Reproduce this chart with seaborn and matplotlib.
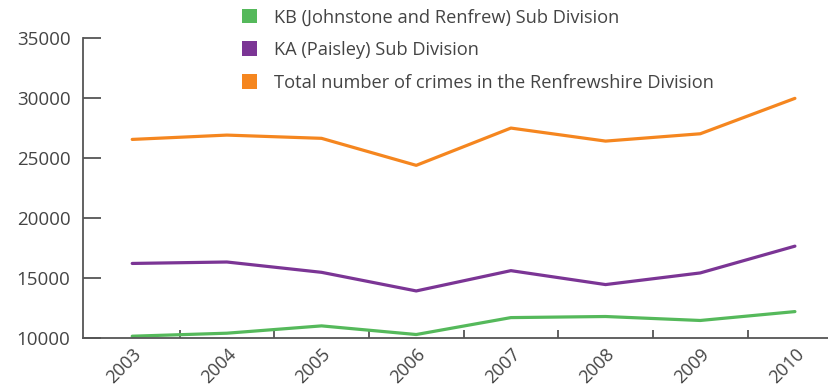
import matplotlib
matplotlib.use("Agg")
import matplotlib.pyplot as plt
import matplotlib.transforms as mtransforms
import seaborn as sns
import pandas as pd
from matplotlib.patches import Patch
from matplotlib.ticker import FixedLocator

years = [2003, 2004, 2005, 2006, 2007, 2008, 2009, 2010]
kb_values = [10190, 10440, 11050, 10330, 11740, 11830, 11500, 12240]
ka_values = [16250, 16370, 15510, 13960, 15650, 14490, 15460, 17690]
total_values = [26580, 26940, 26670, 24420, 27525, 26440, 27050, 30000]
series_names = [
    "KB (Johnstone and Renfrew) Sub Division",
    "KA (Paisley) Sub Division",
    "Total number of crimes in the Renfrewshire Division",
]
colors = ["#55b95b", "#7b3595", "#f5861f"]
y_ticks = [10000, 15000, 20000, 25000, 30000, 35000]

df = pd.DataFrame({
    "year": years * 3,
    "value": kb_values + ka_values + total_values,
    "series": [series_names[0]] * 8 + [series_names[1]] * 8 + [series_names[2]] * 8,
})

sns.set_style("white")
plt.rcParams["font.family"] = ["Open Sans", "DejaVu Sans"]

fig = plt.figure(figsize=(8.29, 3.91), dpi=100)
ax = fig.add_axes([0.1001, 0.1343, 0.8999, 0.7677])

sns.lineplot(data=df, x="year", y="value", hue="series", hue_order=series_names,
             palette=colors, linewidth=2.3, ax=ax, legend=False)

ax.set_xlim(2002.48, 2010.36)
ax.set_ylim(10000, 35000)
ax.set_yticks(y_ticks)
ax.set_yticklabels([str(v) for v in y_ticks])
ax.set_xticks(years)
ax.set_xticklabels([str(y) for y in years], rotation=45, ha="right",
                   rotation_mode="anchor")
ax.xaxis.set_minor_locator(FixedLocator([y + 0.5 for y in years[:-1]]))
ax.set_xlabel("")
ax.set_ylabel("")

shift = mtransforms.ScaledTranslation(4 / 100, 0, fig.dpi_scale_trans)
for lbl in ax.get_xticklabels():
    lbl.set_transform(lbl.get_transform() + shift)

axis_color = "#555555"
for side in ["top", "right"]:
    ax.spines[side].set_visible(False)
for side in ["left", "bottom"]:
    ax.spines[side].set_color(axis_color)
    ax.spines[side].set_linewidth(1.3)

ax.tick_params(axis="y", direction="in", length=13, width=1.3, color=axis_color,
               labelsize=13.5, labelcolor="#444444", pad=9, left=True)
ax.tick_params(axis="x", which="major", length=0, labelsize=13,
               labelcolor="#444444", pad=5, bottom=True)
ax.tick_params(axis="x", which="minor", direction="in", length=6, width=1.3,
               color=axis_color, bottom=True)

handles = [Patch(facecolor=c, edgecolor="none") for c in colors]
fig.legend(handles, series_names, loc="upper left", bbox_to_anchor=(0.283, 0.997),
           frameon=False, fontsize=13.15, labelcolor="#444444",
           handlelength=0.85, handleheight=0.85, handletextpad=0.9, labelspacing=0.8,
           borderaxespad=0)

fig.savefig("out.png", dpi=100)
